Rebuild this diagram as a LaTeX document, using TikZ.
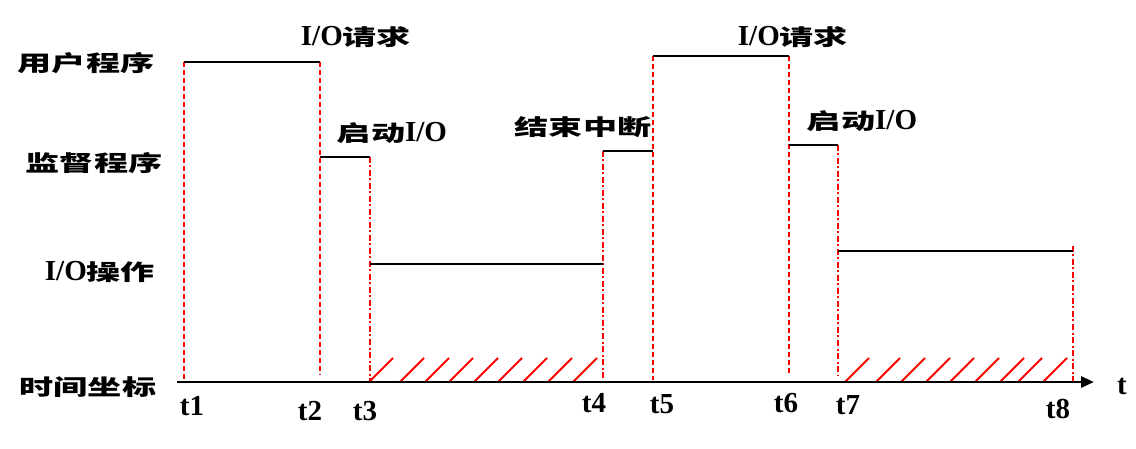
\documentclass[tikz,border=0pt]{standalone}
\usepackage{fontspec}
\usepackage{graphicx}
\setmainfont{Liberation Serif}
\newfontfamily\cjk{Noto Sans CJK SC}
\usetikzlibrary{arrows.meta}
\newcommand\cnt[1]{{\cjk\bfseries\fontsize{22}{22}\selectfont\scalebox{1.55}[1]{#1}}}
\newcommand\iot{{\bfseries\fontsize{29}{29}\selectfont I/O}}
\tikzset{
  lbl/.style={inner sep=0pt, anchor=center},
  tl/.style={inner sep=0pt, anchor=center, font=\bfseries\fontsize{29}{29}\selectfont},
  run/.style={black, line width=2.6pt},
  guide/.style={red, line width=1.2pt, dash pattern=on 5pt off 3pt},
  guidedd/.style={red, line width=1.2pt, dash pattern=on 6pt off 2.5pt on 2pt off 2.5pt},
  hatch/.style={red, line width=2pt},
  axis/.style={black, line width=2.8pt, -{Triangle[length=13pt,width=11pt]}}
}
\begin{document}
\begin{tikzpicture}[x=1pt,y=-1pt]
\useasboundingbox (0,0) rectangle (1136,449);
% time points
\coordinate (a0) at (177,382);
\coordinate (aE) at (1094,382);
% levels
\coordinate (u1) at (184,62);  \coordinate (u2) at (320,62);
\coordinate (s1) at (320,157); \coordinate (s2) at (370,157);
\coordinate (o1) at (370,264); \coordinate (o2) at (603,264);
\coordinate (s3) at (603,151); \coordinate (s4) at (653,151);
\coordinate (u3) at (653,56);  \coordinate (u4) at (789,56);
\coordinate (s5) at (789,145); \coordinate (s6) at (838,145);
\coordinate (o3) at (838,251); \coordinate (o4) at (1073,251);
% guides
\draw[guide] (u1) -- (184,379);
\draw[guide] (u2) -- (320,375);
\draw[guidedd] (s2) -- (370,382);
\draw[guidedd] (s3) -- (603,380);
\draw[guide] (u3) -- (653,380);
\draw[guide] (u4) -- (789,375);
\draw[guidedd] (s6) -- (838,376);
\draw[guidedd] (1073,246) -- (1073,381);
% runs
\draw[run] (u1) -- (u2);
\draw[run] (s1) -- (s2);
\draw[run] (o1) -- (o2);
\draw[run] (s3) -- (s4);
\draw[run] (u3) -- (u4);
\draw[run] (s5) -- (s6);
\draw[run] (o3) -- (o4);
% hatching
\foreach \x in {369,400,425,449,474,498,523,548,573,845,876,901,926,950,975,1000,1018,1043}
  \draw[hatch] (\x,382) -- (\x+24,358);
% axis
\draw[axis] (a0) -- (aE);
% labels
\node[lbl] (L1) at (86,63) {\cnt{用户程序}};
\node[lbl] (L2) at (94,163) {\cnt{监督程序}};
\node[lbl] (L3) at (100,272) {\iot\cnt{操作}};
\node[lbl] (L4) at (88,387) {\cnt{时间坐标}};
\node[lbl] (R1) at (356,37) {\iot\cnt{请求}};
\node[lbl] (Q1) at (392,133) {\cnt{启动}\iot};
\node[lbl] (E1) at (583,127) {\cnt{结束中断}};
\node[lbl] (R2) at (793,37) {\iot\cnt{请求}};
\node[lbl] (Q2) at (862,121) {\cnt{启动}\iot};
\node[tl] (t1) at (192,406) {t1};
\node[tl] (t2) at (310,411) {t2};
\node[tl] (t3) at (365,411) {t3};
\node[tl] (t4) at (594,403) {t4};
\node[tl] (t5) at (662,404) {t5};
\node[tl] (t6) at (786,403) {t6};
\node[tl] (t7) at (848,405) {t7};
\node[tl] (t8) at (1058,409) {t8};
\node[tl] (tt) at (1122,386) {t};
\end{tikzpicture}
\end{document}
